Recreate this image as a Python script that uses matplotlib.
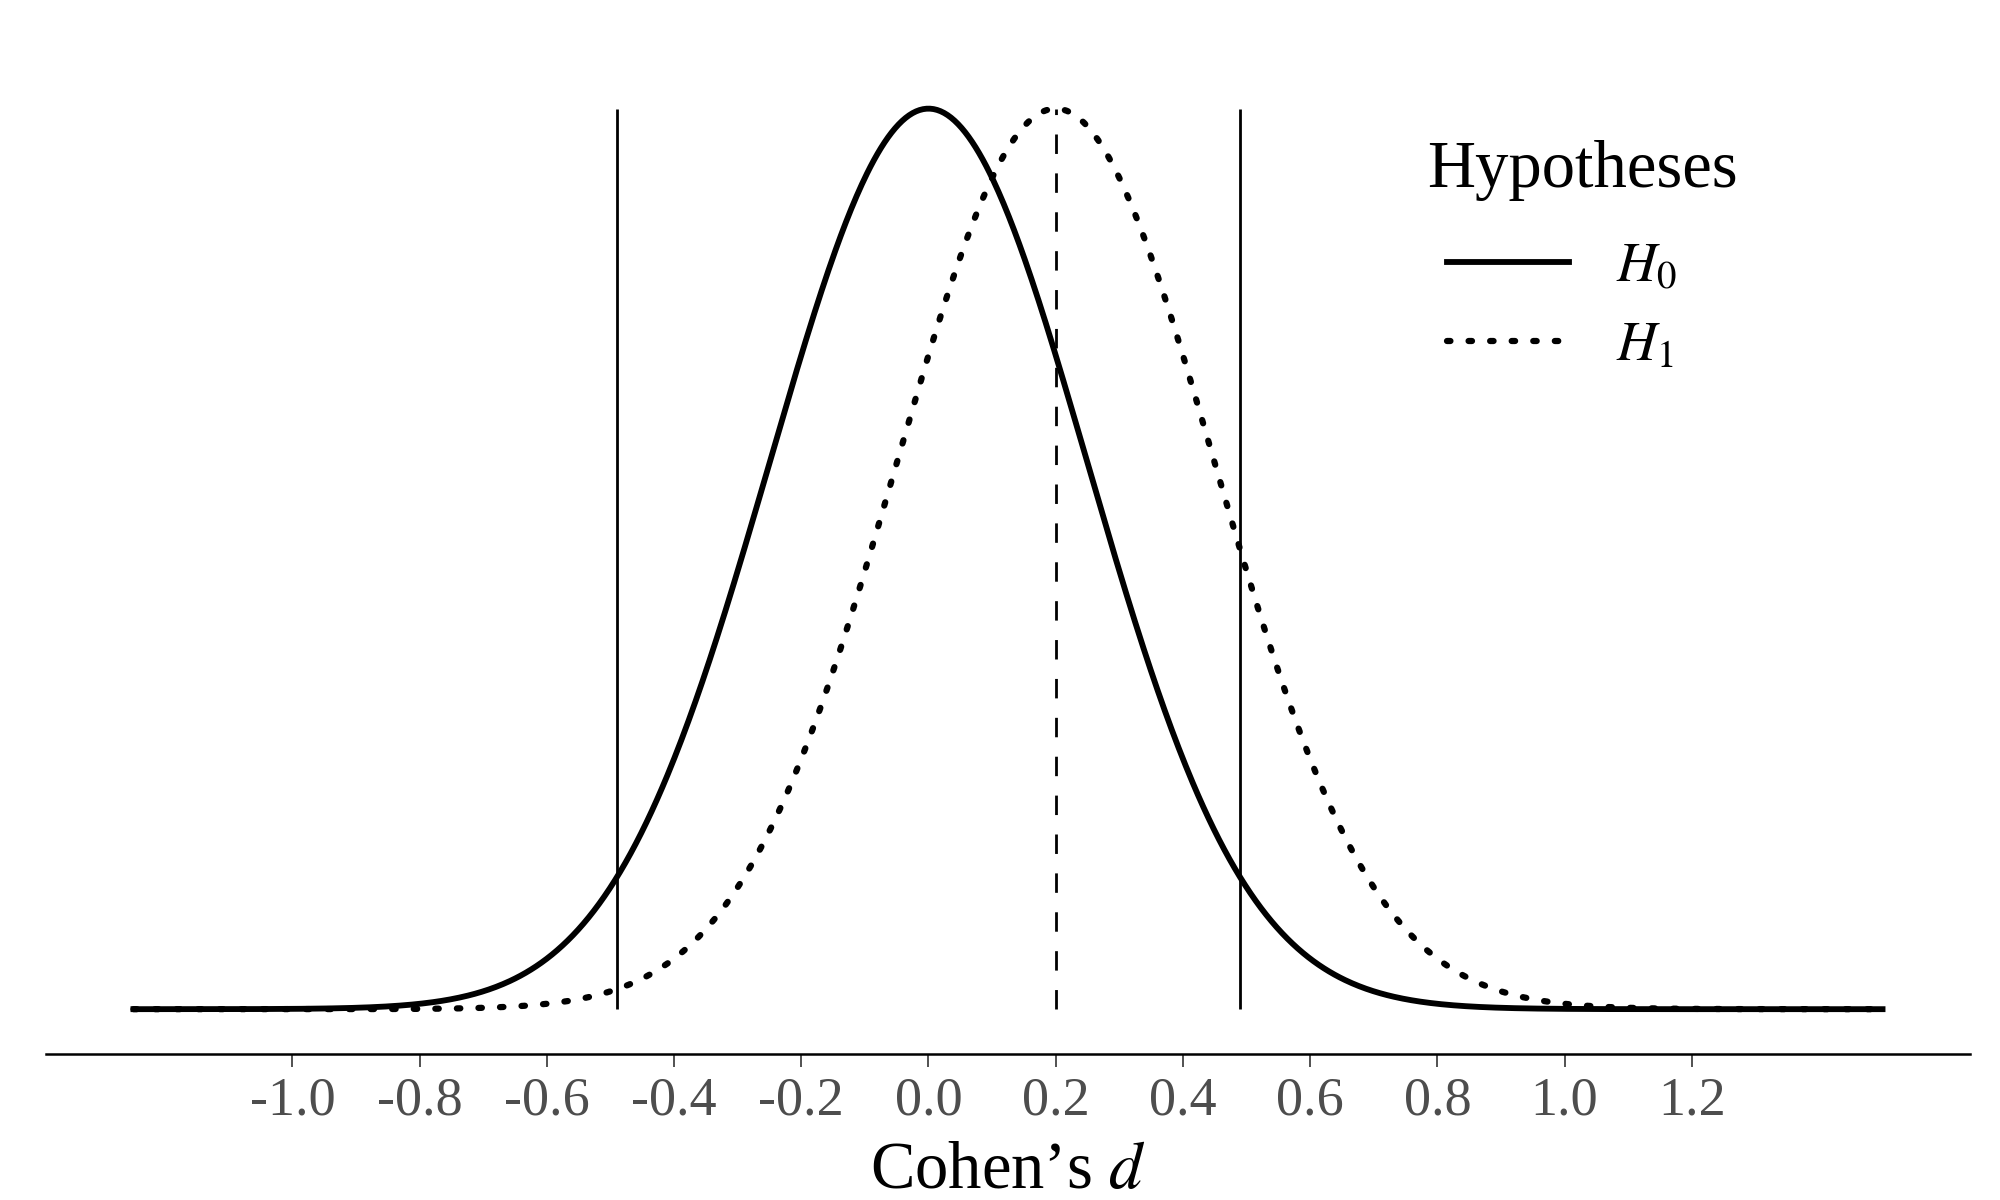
import numpy as np
import matplotlib
matplotlib.use("Agg")
import matplotlib.pyplot as plt

# Hypotheses: normal sampling distributions of Cohen's d
hyp_names = ["$H_0$", "$H_1$"]
hyp_means = [0.0, 0.2]
hyp_sd = 0.25
d_range = [-1.25, 1.5]
crit_values = [-0.49, 0.49]
tick_values = [-1.0, -0.8, -0.6, -0.4, -0.2, 0.0, 0.2, 0.4, 0.6, 0.8, 1.0, 1.2]

plt.rcParams['font.family'] = ['Liberation Serif', 'DejaVu Serif']
plt.rcParams['mathtext.fontset'] = 'stix'


def normal_pdf(x, mu, sd):
    return np.exp(-0.5 * ((x - mu) / sd) ** 2) / (sd * np.sqrt(2 * np.pi))


x = np.linspace(d_range[0], d_range[1], 1000)
peak = normal_pdf(0, 0, hyp_sd)

fig = plt.figure(figsize=(10, 6), dpi=200)
ax = fig.add_axes([0.023, 0.1215, 0.962, 0.8255])

styles = [dict(linestyle='-', lw=2.1),
          dict(linestyle=(0, (0.55, 2.9)), dash_capstyle='round', lw=2.25)]
for name, mu, st in zip(hyp_names, hyp_means, styles):
    ax.plot(x, normal_pdf(x, mu, hyp_sd), color='black', label=name, **st)

# critical values and H1 mean
ax.vlines(crit_values, 0, peak, color='black', lw=1.0)
ax.vlines([hyp_means[1]], 0, peak, color='black', lw=1.0, linestyles=[(0, (7, 7))])

span = d_range[1] - d_range[0]
ax.set_xlim(d_range[0] - 0.05 * span, d_range[1] + 0.05 * span)
ax.set_ylim(-0.05 * peak, 1.05 * peak)

ax.set_xticks(tick_values)
ax.set_xticklabels([f"{t:.1f}" for t in tick_values])
ax.tick_params(axis='x', length=4.5, width=0.6, color='#333333', labelcolor='#4D4D4D',
               labelsize=19.5, pad=3.5)
ax.set_yticks([])
for s in ['left', 'right', 'top']:
    ax.spines[s].set_visible(False)
ax.spines['bottom'].set_linewidth(0.9)

ax.set_xlabel("Cohen\u2019s $d$", fontsize=24, labelpad=5)

fig.text(0.7135, 0.858, "Hypotheses", fontsize=24, ha='left', va='center')
leg = ax.legend(loc='upper left', bbox_to_anchor=(0.7095, 0.822),
                bbox_transform=fig.transFigure, frameon=False, fontsize=20,
                handlelength=2.2, handletextpad=0.85,
                labelspacing=0.48, borderpad=0)

fig.savefig("out.png", dpi=200)
